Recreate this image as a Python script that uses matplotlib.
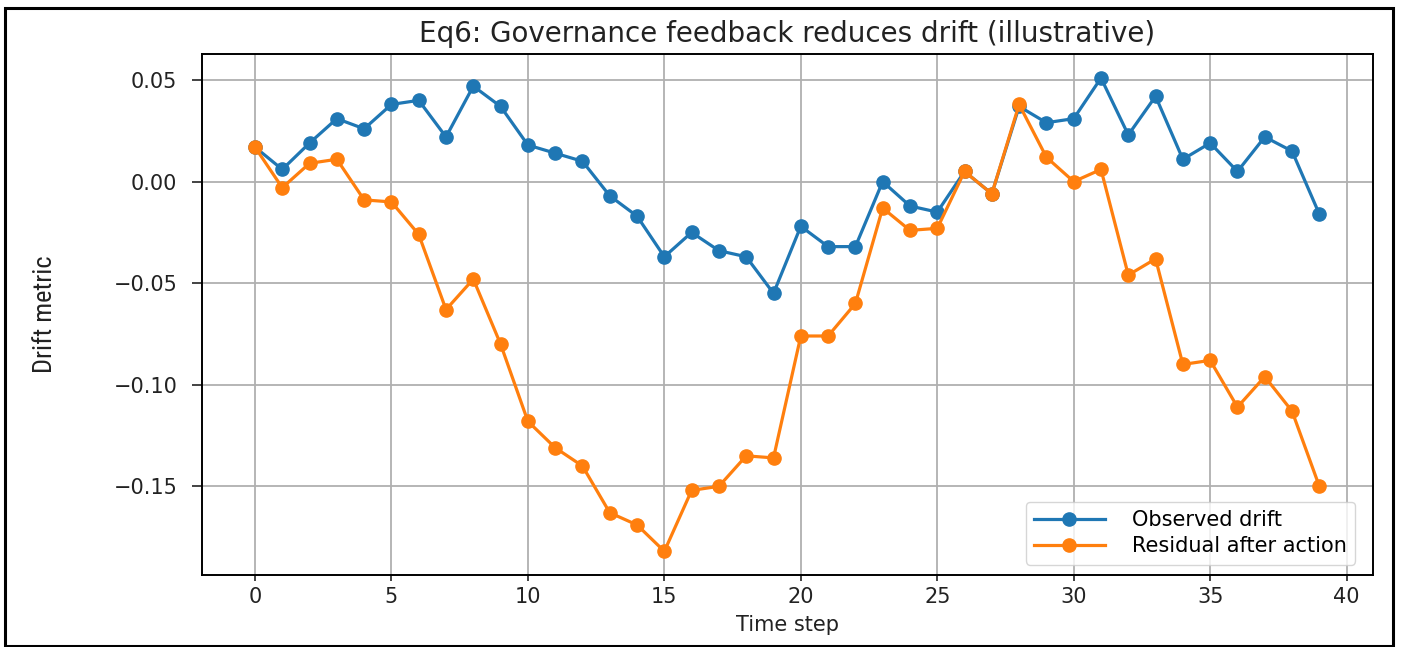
"""Drift vs. residual after governance feedback (Eq6, illustrative)."""
import matplotlib

matplotlib.use("Agg")
import matplotlib.pyplot as plt
from matplotlib import font_manager
from matplotlib.patches import Rectangle

time_step = list(range(40))
observed_drift = [
    0.017, 0.006, 0.019, 0.031, 0.026, 0.038, 0.040, 0.022, 0.047, 0.037,
    0.018, 0.014, 0.010, -0.007, -0.017, -0.037, -0.025, -0.034, -0.037, -0.055,
    -0.022, -0.032, -0.032, 0.000, -0.012, -0.015, 0.005, -0.006, 0.037, 0.029,
    0.031, 0.051, 0.023, 0.042, 0.011, 0.019, 0.005, 0.022, 0.015, -0.016,
]
residual_drift = [
    0.017, -0.003, 0.009, 0.011, -0.009, -0.010, -0.026, -0.063, -0.048, -0.080,
    -0.118, -0.131, -0.140, -0.163, -0.169, -0.182, -0.152, -0.150, -0.135, -0.136,
    -0.076, -0.076, -0.060, -0.013, -0.024, -0.023, 0.005, -0.006, 0.038, 0.012,
    0.000, 0.006, -0.046, -0.038, -0.090, -0.088, -0.111, -0.096, -0.113, -0.150,
]

plt.rcParams["font.family"] = ["DejaVu Sans"]


def narrow_label_font():
    """Pick a condensed face for the y label if one is installed."""
    fonts = font_manager.fontManager.ttflist
    names = {f.name for f in fonts}
    for name in ("Liberation Sans Narrow", "Roboto Condensed", "Open Sans Condensed",
                 "DejaVu Sans Condensed", "Noto Sans Condensed"):
        if name in names:
            return dict(family=name, fontsize=19)
    if any(f.name == "DejaVu Sans" and f.stretch == "condensed" for f in fonts):
        return dict(family="DejaVu Sans", fontstretch="condensed", fontsize=16)
    return dict(family="DejaVu Sans", fontsize=13.5)


fig = plt.figure(figsize=(14.02, 6.47), dpi=100)
ax = fig.add_axes([0.1439, 0.1113, 0.8351, 0.8047])

ax.plot(time_step, observed_drift, marker="o", color="#1f77b4",
        lw=2.3, markersize=9.5, label="Observed drift")
ax.plot(time_step, residual_drift, marker="o", color="#ff7f0e",
        lw=2.3, markersize=9.5, label="Residual after action")

ax.grid(True, color="#b0b0b0", lw=1.3)
ax.set_axisbelow(True)
for spine in ax.spines.values():
    spine.set_linewidth(1.4)

ax.tick_params(axis="both", labelsize=15, width=1.2, colors="#222222")
ax.tick_params(axis="x", length=4.4, pad=4)
ax.tick_params(axis="y", length=7.5, pad=10)

ax.set_title("Eq6: Governance feedback reduces drift (illustrative)",
             fontsize=20, pad=9, color="#222222")
ax.set_xlabel("Time step", fontsize=15, color="#222222", labelpad=6)
ax.set_ylabel("Drift metric", va="center", color="#222222", **narrow_label_font())
ax.yaxis.set_label_coords(-0.134, 0.5)

ax.legend(loc="lower right", bbox_to_anchor=(0.994, 0.0), fontsize=15,
          handlelength=3.4, handletextpad=1.3, labelspacing=0.3,
          borderpad=0.4, borderaxespad=0.5, framealpha=0.8)

# page frame around the whole figure
fig.patches.append(Rectangle((0.0039, 0.0023), 0.99, 0.9861, transform=fig.transFigure,
                             fill=False, edgecolor="black", lw=2.2))

fig.savefig("out.png", dpi=100)
plt.close(fig)
